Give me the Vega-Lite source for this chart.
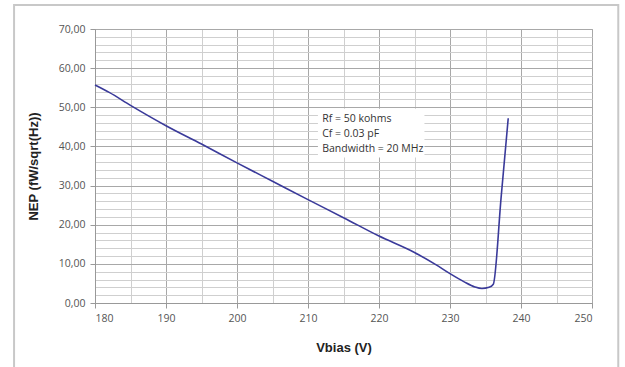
{
  "$schema": "https://vega.github.io/schema/vega-lite/v6.json",
  "width": 497,
  "height": 274,
  "autosize": {"type": "none"},
  "padding": {"left": 95, "top": 29, "right": 33, "bottom": 64},
  "background": "white",
  "config": {
    "view": {"stroke": "#b0b0b0", "strokeWidth": 1},
    "font": "Open Sans"
  },
  "datasets": {
    "curve": [
      {"v": 180, "nep": 55.7},
      {"v": 182, "nep": 53.8},
      {"v": 185, "nep": 50.5},
      {"v": 190, "nep": 45.3},
      {"v": 195, "nep": 40.6},
      {"v": 200, "nep": 35.8},
      {"v": 205, "nep": 31.1},
      {"v": 210, "nep": 26.4},
      {"v": 215, "nep": 21.8},
      {"v": 220, "nep": 17.1},
      {"v": 225, "nep": 12.9},
      {"v": 228, "nep": 9.8},
      {"v": 230, "nep": 7.5},
      {"v": 232, "nep": 5.4},
      {"v": 233.5, "nep": 4.1},
      {"v": 234.5, "nep": 3.7},
      {"v": 235.5, "nep": 4.0},
      {"v": 236.1, "nep": 4.8},
      {"v": 237.2, "nep": 27},
      {"v": 238.2, "nep": 47.2}
    ],
    "notes": [
      {"v": 212, "nep": 46.9, "label": "Rf = 50 kohms"},
      {"v": 212, "nep": 43.1, "label": "Cf = 0.03 pF"},
      {"v": 212, "nep": 39.3, "label": "Bandwidth = 20 MHz"}
    ],
    "box": [{"x1": 211.4, "x2": 226.4, "y1": 37.2, "y2": 49.6}]
  },
  "layer": [
    {
      "data": {"name": "box"},
      "mark": {"type": "rect", "filled": false, "stroke": "#c8c8c8", "strokeWidth": 2},
      "encoding": {
        "x": {"datum": 168.6, "type": "quantitative", "scale": {"domain": [180, 250]}},
        "x2": {"datum": 253.7},
        "y": {"datum": 76.1, "type": "quantitative", "scale": {"domain": [0, 70]}},
        "y2": {"datum": -20}
      }
    },
    {
      "data": {"name": "box"},
      "mark": {"type": "rect", "color": "white"},
      "encoding": {
        "x": {"field": "x1", "type": "quantitative", "scale": {"domain": [180, 250]}},
        "x2": {"field": "x2"},
        "y": {"field": "y1", "type": "quantitative", "scale": {"domain": [0, 70]}},
        "y2": {"field": "y2"}
      }
    },
    {
      "data": {"name": "curve"},
      "mark": {"type": "line", "color": "#3a3a9a", "strokeWidth": 1.6, "interpolate": "monotone"},
      "encoding": {
        "x": {
          "field": "v", "type": "quantitative",
          "scale": {"domain": [180, 250], "nice": false, "zero": false},
          "axis": {
            "values": [180,185,190,195,200,205,210,215,220,225,230,235,240,245,250],
            "tickCount": 100,
            "labelOverlap": false,
            "labelExpr": "datum.value % 10 === 0 ? format(datum.value, 'd') : ''",
            "title": "Vbias (V)",
            "titleFont": "Liberation Sans", "titleFontSize": 13, "titleFontWeight": "bold",
            "titleColor": "#222", "titlePadding": 18,
            "labelFont": "Open Sans", "labelFontSize": 10.5, "labelColor": "#555", "labelPadding": 5,
            "grid": true,
            "gridColor": {"condition": {"test": "datum.value % 10 === 0", "value": "#a8a8a8"}, "value": "#cfcfcf"},
            "gridWidth": 1,
            "tickColor": "#999",
            "tickSize": {"condition": {"test": "datum.value % 10 === 0", "value": 5}, "value": 0},
            "domainColor": "#999"
          }
        },
        "y": {
          "field": "nep", "type": "quantitative",
          "scale": {"domain": [0, 70], "nice": false},
          "axis": {
            "values": [0,2,4,6,8,10,12,14,16,18,20,22,24,26,28,30,32,34,36,38,40,42,44,46,48,50,52,54,56,58,60,62,64,66,68,70],
            "tickCount": 100,
            "labelOverlap": false,
            "labelExpr": "datum.value % 10 === 0 ? replace(format(datum.value, '.2f'), '.', ',') : ''",
            "title": "NEP (fW/sqrt(Hz))",
            "titleFont": "Liberation Sans", "titleFontSize": 13, "titleFontWeight": "bold",
            "titleColor": "#222", "titlePadding": 18,
            "labelFont": "Open Sans", "labelFontSize": 10.5, "labelColor": "#555", "labelPadding": 5,
            "grid": true,
            "gridColor": {"condition": {"test": "datum.value % 10 === 0", "value": "#a8a8a8"}, "value": "#cfcfcf"},
            "gridWidth": 1,
            "tickColor": "#999",
            "tickSize": {"condition": {"test": "datum.value % 10 === 0", "value": 5}, "value": 0},
            "domainColor": "#999"
          }
        }
      }
    },
    {
      "data": {"name": "notes"},
      "mark": {"type": "text", "align": "left", "baseline": "middle", "font": "Open Sans", "fontSize": 10.5, "color": "#333"},
      "encoding": {
        "x": {"field": "v", "type": "quantitative"},
        "y": {"field": "nep", "type": "quantitative"},
        "text": {"field": "label"}
      }
    }
  ]
}
